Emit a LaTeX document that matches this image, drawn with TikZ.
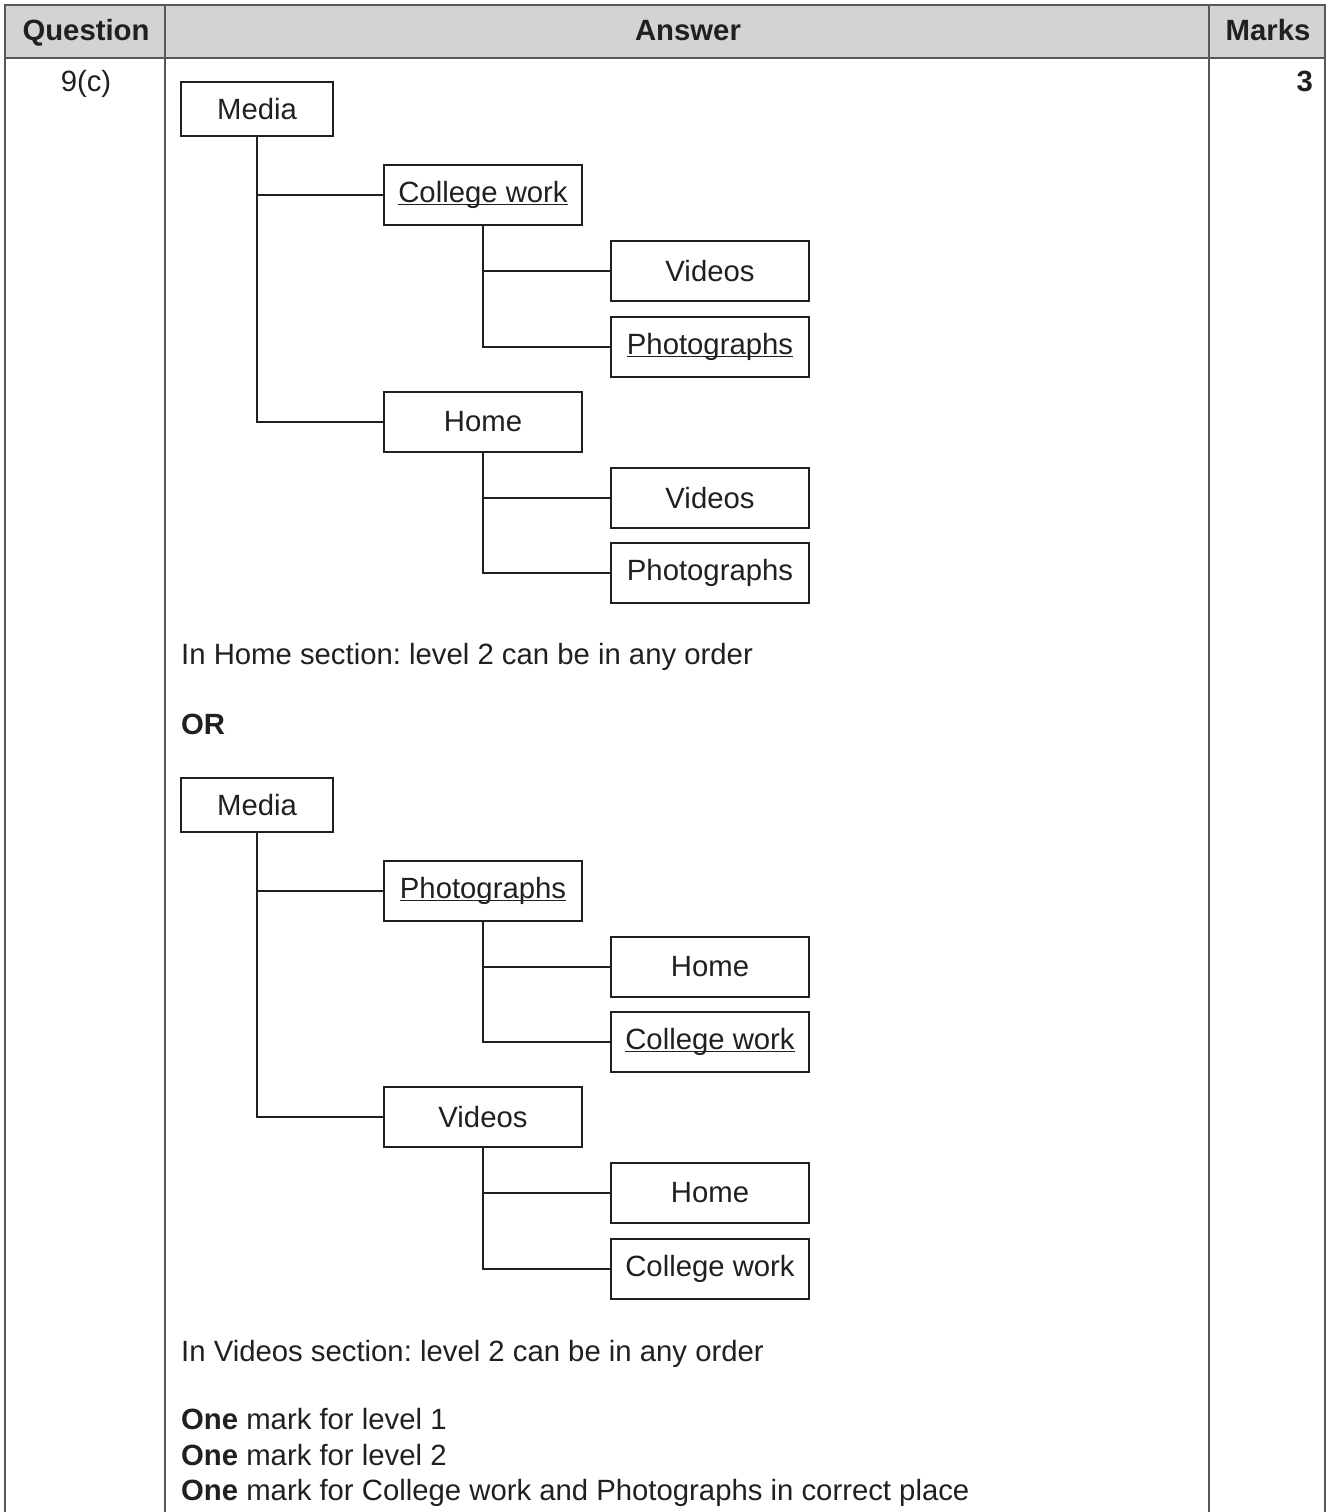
\documentclass[tikz,border=0pt]{standalone}
\usepackage{fontspec}
\setmainfont{Liberation Sans}
\usetikzlibrary{positioning}
\frenchspacing
\definecolor{inkc}{HTML}{231F20}
\definecolor{rulec}{HTML}{58595B}
\definecolor{headc}{HTML}{D1D3D4}
\newcommand{\ulword}[1]{\underline{\smash{#1}}\vphantom{#1}}
\newcommand{\bodyfont}{\fontsize{29.3}{35}\selectfont}
\tikzset{
  folder/.style={draw=inkc, line width=1.3pt, fill=white, text=inkc,
    minimum width=198pt, minimum height=60pt, inner sep=0pt},
  topfolder/.style={folder, minimum width=152pt, minimum height=54pt},
  note/.style={anchor=base west, text=inkc, inner sep=0pt},
  headtext/.style={anchor=base, text=inkc, inner sep=0pt, font=\bodyfont\bfseries}
}
\begin{document}
\begin{tikzpicture}[x=1pt, y=-1pt, font=\bodyfont]
  \useasboundingbox (0,0) rectangle (1329,1512);
  % table frame
  \fill[headc] (5,5) rectangle (1325,58);
  \draw[rulec, line width=2pt]
    (5,1512) -- (5,5) -- (1325,5) -- (1325,1512)
    (5,58) -- (1325,58)
    (165,5) -- (165,1512)
    (1209,5) -- (1209,1512);
  \node[headtext] (hq) at (86,41) {Question};
  \node[headtext] (ha) at (688,41) {Answer};
  \node[headtext] (hm) at (1268,41) {Marks};
  \node[anchor=base, text=inkc, inner sep=0pt] (qno) at (86,92) {9(c)};
  \node[anchor=base east, text=inkc, inner sep=0pt, font=\bodyfont\bfseries] (mk) at (1313,92) {3};
  % first tree
  \node[topfolder] (media1) at (257,109) {Media};
  \node[folder] (college1) at (483,195) {\ulword{College work}};
  \node[folder] (cvideos1) at (710,271) {Videos};
  \node[folder] (cphotos1) at (710,347) {\ulword{Photographs}};
  \node[folder] (home1) at (483,422) {Home};
  \node[folder] (hvideos1) at (710,498) {Videos};
  \node[folder] (hphotos1) at (710,573) {Photographs};
  \begin{scope}[draw=inkc, line width=1.3pt]
    \draw (media1) |- (college1);
    \draw (media1) |- (home1);
    \draw (college1) |- (cvideos1);
    \draw (college1) |- (cphotos1);
    \draw (home1) |- (hvideos1);
    \draw (home1) |- (hphotos1);
  \end{scope}
  \node[note] (note1) at (181,664) {In Home section: level 2 can be in any order};
  \node[note, font=\bodyfont\bfseries] (or) at (181,734) {OR};
  % second tree
  \node[topfolder] (media2) at (257,805) {Media};
  \node[folder] (photos2) at (483,891) {\ulword{Photographs}};
  \node[folder] (phome2) at (710,967) {Home};
  \node[folder] (pcollege2) at (710,1042) {\ulword{College work}};
  \node[folder] (videos2) at (483,1117) {Videos};
  \node[folder] (vhome2) at (710,1193) {Home};
  \node[folder] (vcollege2) at (710,1269) {College work};
  \begin{scope}[draw=inkc, line width=1.3pt]
    \draw (media2) |- (photos2);
    \draw (media2) |- (videos2);
    \draw (photos2) |- (phome2);
    \draw (photos2) |- (pcollege2);
    \draw (videos2) |- (vhome2);
    \draw (videos2) |- (vcollege2);
  \end{scope}
  \node[note] (note2) at (181,1361) {In Videos section: level 2 can be in any order};
  \node[note] (mark1) at (181,1429) {\textbf{One} mark for level 1};
  \node[note] (mark2) at (181,1465) {\textbf{One} mark for level 2};
  \node[note] (mark3) at (181,1500) {\textbf{One} mark for College work and Photographs in correct place};
\end{tikzpicture}
\end{document}
